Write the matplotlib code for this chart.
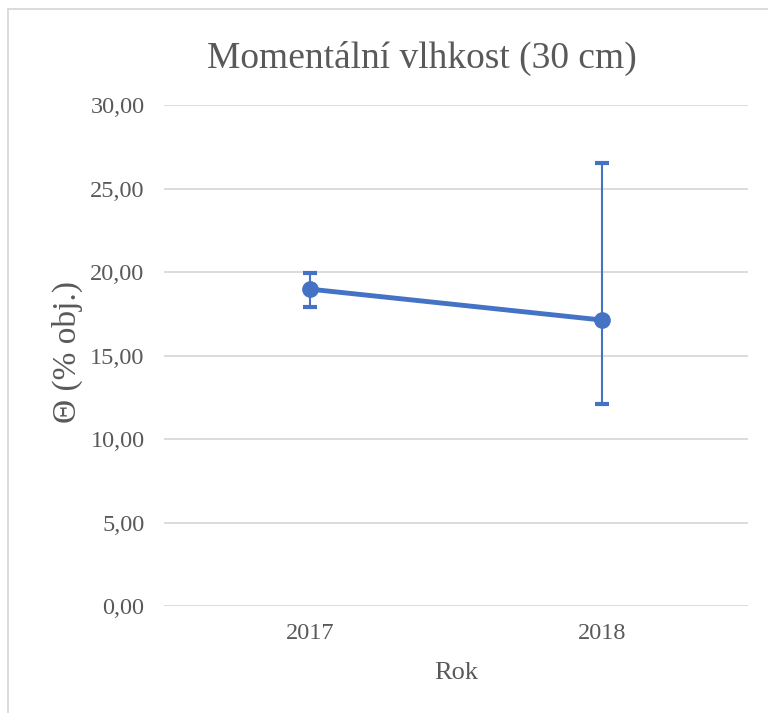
import matplotlib.pyplot as plt
from matplotlib.lines import Line2D

years = ["2017", "2018"]
theta = [18.98, 17.13]
err_low = [1.05, 5.03]
err_high = [0.97, 9.40]
yticks = [0, 5, 10, 15, 20, 25, 30]

blue = "#4472C4"
grey = "#595959"
plt.rcParams["font.family"] = ["Liberation Serif", "DejaVu Serif"]

fig = plt.figure(figsize=(7.68, 7.13), dpi=100)
ax = fig.add_axes([0.2135, 0.150, 0.7605, 0.7025])

x = list(range(len(years)))
ax.errorbar(x, theta, yerr=[err_low, err_high], color=blue, lw=3.5,
            marker="o", ms=11, ecolor=blue, elinewidth=1.5,
            capsize=5, capthick=3, zorder=3)

ax.set_xlim(-0.5, 1.5)
ax.set_ylim(0, 30)
ax.set_xticks(x)
ax.set_xticklabels(years)
ax.set_yticks(yticks)
ax.set_yticklabels([f"{v:.2f}".replace(".", ",") for v in yticks])
ax.grid(axis="y", color="#D9D9D9", lw=1.3)
ax.set_axisbelow(True)
for s in ax.spines.values():
    s.set_visible(False)
ax.tick_params(length=0, labelsize=17.5, colors=grey, pad=14)
ax.tick_params(axis="x", pad=12)

# axis titles and chart title placed like the Excel layout
fig.text(456 / 768, 1 - 673 / 713, "Rok", fontsize=19, color=grey,
         ha="center", va="center")
fig.text(67 / 768, 1 - 352 / 713, "Θ (% obj.)", fontsize=24, color=grey,
         rotation=90, ha="center", va="center")
fig.text(422 / 768, 1 - 58 / 713, "Momentální vlhkost (30 cm)", fontsize=27,
         color=grey, ha="center", va="center")

# chart area border (left and top edges visible)
fig.add_artist(Line2D([0.0105, 0.0105], [0, 0.988], color="#D9D9D9", lw=1.3))
fig.add_artist(Line2D([0.0105, 1], [0.988, 0.988], color="#D9D9D9", lw=1.3))

fig.savefig("out.png", dpi=100, facecolor="white")
